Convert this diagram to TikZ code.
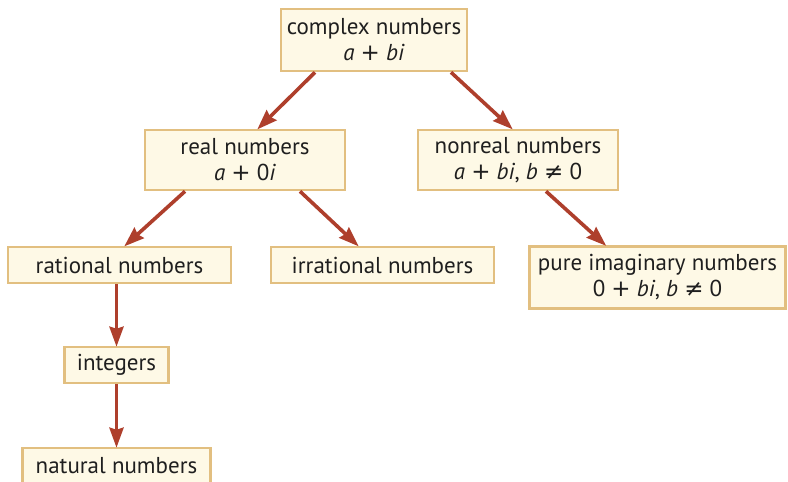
\documentclass[tikz,border=0pt]{standalone}
\usepackage{fontspec}
\setmainfont{PT Sans}
\newfontfamily\symf{DejaVu Sans}
\usetikzlibrary{arrows.meta,calc}
\definecolor{boxfill}{HTML}{FEF9E6}
\definecolor{boxline}{HTML}{E2BF80}
\definecolor{arrowc}{HTML}{AE3F2C}
\newcommand{\pl}{ {\symf +} }
\newcommand{\nq}{ {\symf ≠} }
\tikzset{
  numbox/.style={draw=boxline, fill=boxfill, line width=2.6pt, inner sep=0pt,
    align=center, font=\fontsize{23}{26}\selectfont, text=black!88},
  arr/.style={draw=arrowc, line width=3.6pt,
    -{Stealth[length=20pt,width=14pt,inset=2pt]}, shorten >=-1pt}
}
\begin{document}
\begin{tikzpicture}[x=1pt,y=-1pt]
\useasboundingbox (0,0) rectangle (788,482);
\node[numbox, minimum width=186pt, minimum height=62pt] (complex) at (374,40)
  {complex numbers\\\textit{a}\pl\textit{bi}};
\node[numbox, minimum width=200pt, minimum height=60pt] (real) at (245,160)
  {real numbers\\\textit{a}\pl0\textit{i}};
\node[numbox, minimum width=200pt, minimum height=60pt] (nonreal) at (518,160)
  {nonreal numbers\\\textit{a}\pl\textit{bi}, \textit{b}\nq0};
\node[numbox, minimum width=223pt, minimum height=36pt] (rational) at (119.5,265)
  {rational numbers};
\node[numbox, minimum width=223pt, minimum height=36pt] (irrational) at (382.5,265)
  {irrational numbers};
\node[numbox, minimum width=256pt, minimum height=62pt] (pure) at (657.5,277.5)
  {pure imaginary numbers\\0\pl\textit{bi}, \textit{b}\nq0};
\node[numbox, minimum width=104pt, minimum height=36pt] (integers) at (116.5,365)
  {integers};
\node[numbox, minimum width=188pt, minimum height=36pt] (natural) at (116.5,466)
  {natural numbers};
\draw[arr] ([xshift=-59pt]complex.south) -- ([xshift=13pt]real.north);
\draw[arr] ([xshift=77pt]complex.south) -- ([xshift=-6pt]nonreal.north);
\draw[arr] ([xshift=-60pt]real.south) -- ([xshift=5.5pt]rational.north);
\draw[arr] ([xshift=55pt]real.south) -- ([xshift=-24.5pt]irrational.north);
\draw[arr] ([xshift=28pt]nonreal.south) -- ([xshift=-52pt]pure.north);
\draw[arr] (integers.north |- rational.south) -- (integers.north);
\draw[arr] (integers.south) -- (natural.north);
\end{tikzpicture}
\end{document}
